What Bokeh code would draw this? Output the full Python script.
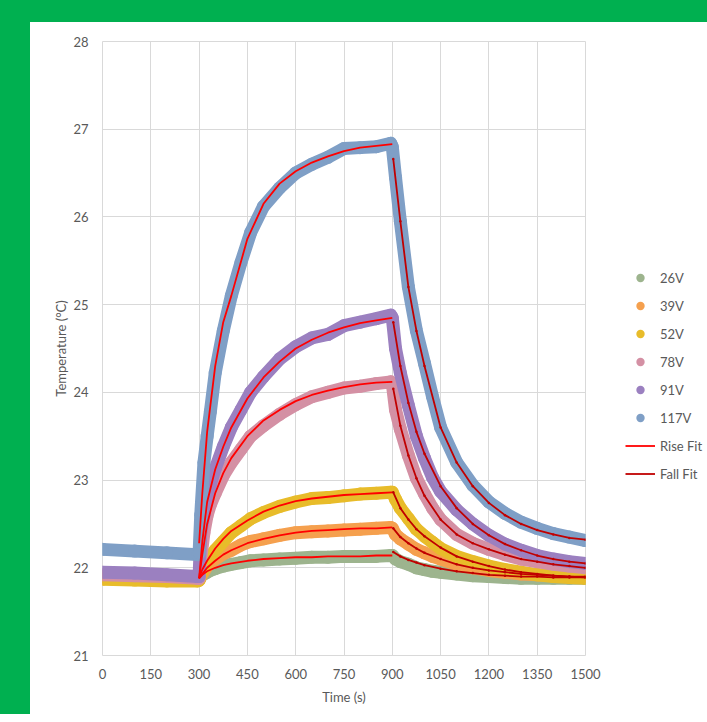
from bokeh.plotting import figure
from bokeh.models import Range1d, FixedTicker, Legend, LegendItem, Div, ColumnDataSource
from bokeh.layouts import column, row
from bokeh.embed import file_html
from bokeh.resources import INLINE

# ---------------- data ----------------
time_s = [0, 100, 200, 295, 300, 305, 315, 325, 335, 350, 375, 400, 430, 460, 500,
          550, 600, 650, 700, 750, 800, 850, 895, 900, 910, 925, 950, 975, 1000,
          1025, 1050, 1100, 1150, 1200, 1250, 1300, 1350, 1400, 1450, 1500]

temp_26v = [21.90, 21.89, 21.88, 21.88, 21.88, 21.90, 21.93, 21.95, 21.97, 21.99, 22.02, 22.04, 22.06, 22.08, 22.09,
            22.10, 22.11, 22.12, 22.12, 22.13, 22.13, 22.13, 22.14, 22.14, 22.10, 22.07, 22.04, 22.00, 21.98,
            21.96, 21.95, 21.93, 21.91, 21.90, 21.89, 21.88, 21.88, 21.88, 21.88, 21.88]
temp_39v = [21.88, 21.87, 21.86, 21.86, 21.86, 21.90, 21.96, 22.02, 22.06, 22.10, 22.16, 22.20, 22.26, 22.30, 22.33,
            22.37, 22.40, 22.41, 22.42, 22.43, 22.44, 22.45, 22.46, 22.45, 22.38, 22.33, 22.27, 22.21, 22.17,
            22.13, 22.10, 22.04, 22.00, 21.97, 21.95, 21.93, 21.92, 21.91, 21.90, 21.90]
temp_52v = [21.87, 21.86, 21.85, 21.85, 21.86, 21.92, 22.00, 22.08, 22.13, 22.20, 22.30, 22.40, 22.48, 22.56, 22.63,
            22.70, 22.75, 22.79, 22.80, 22.82, 22.84, 22.85, 22.86, 22.86, 22.78, 22.68, 22.56, 22.44, 22.36,
            22.29, 22.22, 22.13, 22.07, 22.02, 21.98, 21.95, 21.92, 21.90, 21.89, 21.88]
temp_78v = [21.92, 21.91, 21.90, 21.88, 21.88, 22.10, 22.40, 22.60, 22.72, 22.85, 23.05, 23.20, 23.35, 23.50, 23.62,
            23.75, 23.86, 23.95, 24.00, 24.05, 24.07, 24.10, 24.12, 24.10, 23.80, 23.58, 23.28, 23.02, 22.84,
            22.68, 22.55, 22.38, 22.28, 22.21, 22.15, 22.10, 22.07, 22.04, 22.02, 22.00]
temp_91v = [21.95, 21.94, 21.92, 21.90, 21.90, 22.40, 22.60, 22.80, 22.95, 23.13, 23.38, 23.60, 23.80, 24.00, 24.18,
            24.38, 24.52, 24.62, 24.66, 24.76, 24.80, 24.84, 24.88, 24.85, 24.50, 24.22, 23.85, 23.50, 23.25,
            23.03, 22.87, 22.66, 22.50, 22.37, 22.27, 22.20, 22.14, 22.10, 22.07, 22.05]
temp_117v = [22.21, 22.19, 22.17, 22.15, 22.17, 22.60, 23.20, 23.50, 23.78, 24.22, 24.70, 25.10, 25.48, 25.82, 26.12,
             26.33, 26.50, 26.60, 26.68, 26.78, 26.79, 26.80, 26.84, 26.80, 26.45, 25.95, 25.20, 24.70, 24.33,
             23.95, 23.60, 23.20, 22.94, 22.75, 22.62, 22.52, 22.45, 22.39, 22.35, 22.31]

rise_time = [300, 310, 325, 350, 375, 400, 450, 500, 550, 600, 650, 700, 750, 800, 850, 900]
rise_26v = [21.88, 21.92, 21.96, 22.00, 22.03, 22.05, 22.08, 22.10, 22.11, 22.12, 22.12, 22.13, 22.13, 22.13, 22.14, 22.14]
rise_39v = [21.88, 21.93, 22.00, 22.08, 22.15, 22.20, 22.28, 22.33, 22.37, 22.40, 22.42, 22.43, 22.44, 22.45, 22.45, 22.46]
rise_52v = [21.88, 21.98, 22.08, 22.22, 22.33, 22.42, 22.54, 22.64, 22.71, 22.76, 22.79, 22.81, 22.83, 22.84, 22.85, 22.86]
rise_78v = [21.88, 22.15, 22.50, 22.85, 23.08, 23.25, 23.50, 23.68, 23.80, 23.90, 23.97, 24.02, 24.06, 24.09, 24.11, 24.12]
rise_91v = [21.88, 22.30, 22.75, 23.12, 23.38, 23.60, 23.93, 24.17, 24.35, 24.50, 24.60, 24.68, 24.74, 24.79, 24.82, 24.85]
rise_117v = [22.28, 22.85, 23.55, 24.30, 24.80, 25.10, 25.75, 26.15, 26.38, 26.52, 26.62, 26.69, 26.75, 26.79, 26.81, 26.83]

fall_time = [903, 925, 950, 975, 1000, 1050, 1100, 1150, 1200, 1250, 1300, 1350, 1400, 1450, 1500]
fall_26v = [22.18, 22.13, 22.09, 22.06, 22.03, 21.99, 21.96, 21.94, 21.92, 21.91, 21.90, 21.90, 21.89, 21.89, 21.89]
fall_39v = [22.45, 22.35, 22.28, 22.22, 22.17, 22.10, 22.04, 22.00, 21.97, 21.95, 21.93, 21.92, 21.91, 21.90, 21.90]
fall_52v = [22.86, 22.68, 22.55, 22.44, 22.36, 22.23, 22.13, 22.07, 22.02, 21.98, 21.95, 21.93, 21.91, 21.90, 21.89]
fall_78v = [24.04, 23.62, 23.28, 23.02, 22.82, 22.55, 22.38, 22.28, 22.21, 22.15, 22.10, 22.07, 22.04, 22.02, 22.00]
fall_91v = [24.80, 24.30, 23.88, 23.55, 23.30, 22.93, 22.68, 22.50, 22.37, 22.27, 22.20, 22.14, 22.10, 22.07, 22.05]
fall_117v = [26.66, 25.95, 25.20, 24.70, 24.30, 23.60, 23.20, 22.93, 22.74, 22.60, 22.50, 22.43, 22.38, 22.34, 22.32]

series_names = ["26V", "39V", "52V", "78V", "91V", "117V"]
series_colors = ["#9DB48E", "#F5A04E", "#E8BC2A", "#D490A4", "#9B80C0", "#7F9FC6"]
series_temps = [temp_26v, temp_39v, temp_52v, temp_78v, temp_91v, temp_117v]
rise_fits = [rise_26v, rise_39v, rise_52v, rise_78v, rise_91v, rise_117v]
fall_fits = [fall_26v, fall_39v, fall_52v, fall_78v, fall_91v, fall_117v]

x_ticks = [0, 150, 300, 450, 600, 750, 900, 1050, 1200, 1350, 1500]
y_ticks = [21, 22, 23, 24, 25, 26, 27, 28]

# ---------------- main chart ----------------
FONT = "Lato"
TXT = "#595959"
GRID = "#D9D9D9"
RISE_COLOR = "#FF0000"
FALL_COLOR = "#C00000"

p = figure(width=573, height=692, output_backend="svg", toolbar_location=None,
           x_range=Range1d(0, 1500), y_range=Range1d(21, 28),
           min_border_left=72, min_border_right=18, min_border_top=19, min_border_bottom=59)
p.background_fill_color = "white"
p.border_fill_color = "white"
p.outline_line_color = GRID

for ax, ticks in ((p.xaxis[0], x_ticks), (p.yaxis[0], y_ticks)):
    ax.ticker = FixedTicker(ticks=ticks)
    ax.axis_line_color = None
    ax.major_tick_line_color = None
    ax.minor_tick_line_color = None
    ax.major_label_text_font = FONT
    ax.major_label_text_font_size = "13px"
    ax.major_label_text_color = TXT
    ax.axis_label_text_font = FONT
    ax.axis_label_text_font_size = "13px"
    ax.axis_label_text_color = TXT
    ax.axis_label_text_font_style = "normal"

p.xaxis.axis_label = "Time (s)"
p.yaxis.axis_label = "Temperature (°C)"
p.xaxis.major_label_standoff = 7
p.yaxis.major_label_standoff = 8
p.xaxis.axis_label_standoff = 7
p.yaxis.axis_label_standoff = 1

p.xgrid.ticker = FixedTicker(ticks=x_ticks)
p.ygrid.ticker = FixedTicker(ticks=y_ticks)
p.grid.grid_line_color = GRID
p.grid.grid_line_width = 1

for name, col, temps in zip(series_names, series_colors, series_temps):
    p.line(time_s, temps, line_color=col, line_width=13, line_join="round", line_cap="round")
    p.scatter(time_s, temps, size=13, fill_color=col, line_color=None, marker="circle")

for rf in rise_fits:
    p.line(rise_time, rf, line_color=RISE_COLOR, line_width=1.8)
for ff in fall_fits:
    p.line(fall_time, ff, line_color=FALL_COLOR, line_width=1.8)
    p.scatter(fall_time, ff, size=2.5, fill_color=FALL_COLOR, line_color=None)

# ---------------- legend panel (separate figure to the right) ----------------
lg = figure(width=104, height=692, output_backend="svg", toolbar_location=None,
            x_range=Range1d(0, 1), y_range=Range1d(0, 1),
            x_axis_type=None, y_axis_type=None, min_border=0)
lg.outline_line_color = None
lg.grid.visible = False
lg.background_fill_color = "white"
lg.border_fill_color = "white"

# legend-only glyphs: points placed outside the visible range
offscreen = ColumnDataSource(data=dict(x=[-5, -6], y=[-5, -6]))
items = []
for name, col in zip(series_names, series_colors):
    r = lg.scatter("x", "y", source=offscreen, size=12, fill_color=col, line_color=None, marker="circle")
    items.append(LegendItem(label=name, renderers=[r]))
r_rise = lg.line("x", "y", source=offscreen, line_color=RISE_COLOR, line_width=1.8)
r_fall = lg.line("x", "y", source=offscreen, line_color=FALL_COLOR, line_width=1.8)
items.append(LegendItem(label="Rise Fit", renderers=[r_rise]))
items.append(LegendItem(label="Fall Fit", renderers=[r_fall]))

legend = Legend(items=items, location=(22, 171))
legend.glyph_width = 30
legend.glyph_height = 21
legend.label_height = 21
legend.spacing = 7
legend.padding = 0
legend.margin = 0
legend.label_standoff = 5
legend.border_line_color = None
legend.background_fill_alpha = 0
legend.label_text_font = FONT
legend.label_text_font_size = "13px"
legend.label_text_color = TXT
lg.add_layout(legend, "center")

GREEN = "#00B050"
top_bar = Div(width=707, height=22, margin=0, styles={"background-color": GREEN})
left_bar = Div(width=30, height=692, margin=0, styles={"background-color": GREEN})
layout = column(top_bar, row(left_bar, p, lg, spacing=0), spacing=0)

open("out.html", "w").write(file_html(layout, INLINE))
